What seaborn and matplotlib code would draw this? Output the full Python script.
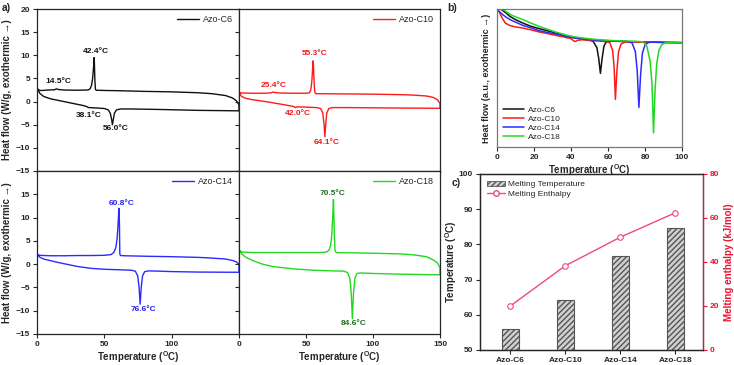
import numpy as np
import pandas as pd
import matplotlib
matplotlib.use('Agg')
import matplotlib.pyplot as plt
from matplotlib.patches import Patch
from matplotlib.lines import Line2D
import seaborn as sns

# --- DSC curves (panel a) ---
# heating run (0 -> 150), then cooling run (150 -> 0)
c6_heat_t = [0.5, 2, 5, 10, 15, 20, 25, 30, 35, 37, 38.1, 39, 45, 50, 53, 54.5, 55.5, 56, 56.6, 57.5, 59, 62, 70, 90, 120, 150]
c6_heat_hf = [2.7, 1.8, 1.1, 0.6, 0.3, 0.0, -0.3, -0.6, -0.9, -1.1, -1.3, -1.3, -1.4, -1.5, -1.8, -2.6, -4.0, -5.0, -4.0, -2.5, -1.8, -1.6, -1.6, -1.7, -1.9, -2.0]
c6_cool_t = [150, 148, 145, 140, 130, 120, 100, 80, 60, 50, 44, 43.4, 43, 42.6, 42.4, 42, 41.3, 40.5, 39.5, 38, 30, 20, 16, 14.5, 13, 8, 4, 2, 0.5]
c6_cool_hf = [-0.7, 0.2, 0.8, 1.3, 1.7, 1.9, 2.1, 2.2, 2.35, 2.4, 2.45, 2.6, 4.5, 8.5, 9.5, 7.5, 5.0, 3.5, 2.8, 2.5, 2.45, 2.5, 2.6, 2.75, 2.55, 2.5, 2.4, 2.4, 2.7]

c10_heat_t = [0.3, 2, 5, 10, 15, 20, 30, 38, 41, 42, 43, 50, 58, 61, 62.5, 63.5, 64.1, 64.7, 65.5, 67, 70, 80, 100, 120, 150]
c10_heat_hf = [1.9, 1.1, 0.7, 0.4, 0.2, 0.0, -0.5, -0.9, -1.1, -1.3, -1.15, -1.2, -1.3, -1.5, -2.5, -5.0, -7.6, -5.0, -2.5, -1.5, -1.3, -1.3, -1.35, -1.4, -1.45]
c10_cool_t = [150, 148, 145, 140, 130, 120, 100, 80, 60, 58, 57, 56.5, 56, 55.6, 55.3, 55, 54.5, 54, 53.3, 52.5, 51, 40, 30, 27, 25.4, 24, 20, 10, 3, 0.3]
c10_cool_hf = [-0.4, 0.4, 0.9, 1.2, 1.4, 1.5, 1.6, 1.65, 1.7, 1.7, 1.75, 2.2, 4.5, 7.5, 8.8, 7.5, 5.0, 3.3, 2.3, 1.9, 1.8, 1.8, 1.85, 1.95, 2.05, 1.9, 1.8, 1.8, 1.85, 1.9]

c14_heat_t = [0.5, 2, 5, 10, 15, 20, 30, 40, 50, 60, 70, 73, 74.8, 75.8, 76.6, 77.4, 78.4, 80, 83, 90, 100, 120, 150]
c14_heat_hf = [2.0, 1.5, 1.1, 0.75, 0.4, 0.1, -0.5, -0.9, -1.1, -1.2, -1.3, -1.5, -2.5, -5.0, -8.6, -5.0, -2.5, -1.6, -1.45, -1.5, -1.6, -1.7, -1.75]
c14_cool_t = [150, 148, 145, 140, 130, 120, 100, 80, 65, 62, 61.5, 61.2, 60.8, 60.2, 59.5, 58.5, 57, 55, 50, 40, 30, 20, 10, 5, 2, 0.5]
c14_cool_hf = [0.0, 0.5, 0.8, 1.1, 1.3, 1.45, 1.6, 1.7, 1.8, 1.85, 2.2, 9.0, 12.0, 8.5, 5.5, 3.5, 2.5, 2.05, 1.9, 1.85, 1.85, 1.8, 1.8, 1.85, 1.9, 2.0]

c18_heat_t = [0.5, 2, 5, 10, 17.5, 25, 40, 55, 70, 78, 81, 82.7, 83.7, 84.6, 85.5, 86.5, 88, 91, 100, 120, 150]
c18_heat_hf = [2.9, 2.2, 1.5, 0.8, 0.0, -0.5, -1.0, -1.3, -1.45, -1.5, -1.8, -3.0, -6.0, -11.7, -6.0, -3.0, -2.0, -1.9, -2.0, -2.15, -2.3]
c18_cool_t = [150, 148, 145, 140, 130, 120, 100, 80, 75, 72.5, 71.6, 71.1, 70.5, 70, 69.3, 68.5, 67.5, 66, 64, 60, 40, 25, 10, 5, 2, 0.5]
c18_cool_hf = [-0.75, 0.3, 0.9, 1.6, 2.0, 2.2, 2.35, 2.45, 2.45, 2.5, 3.0, 7.0, 13.9, 10.5, 6.5, 4.2, 3.2, 2.7, 2.55, 2.5, 2.5, 2.5, 2.5, 2.55, 2.6, 2.9]

# peak labels: (text, T, HF)
c6_notes = [('14.5°C', 15.7, 4.3), ('42.4°C', 43.8, 10.8), ('38.1°C', 38.3, -3.1), ('56.0°C', 58.2, -5.8)]
c10_notes = [('25.4°C', 25.7, 3.4), ('55.3°C', 56.3, 10.3), ('42.0°C', 43.7, -2.5), ('64.1°C', 65.5, -8.9)]
c14_notes = [('60.8°C', 62.7, 13.0), ('76.6°C', 78.9, -9.8)]
c18_notes = [('70.5°C', 69.5, 15.1), ('84.6°C', 85.9, -12.8)]

# --- normalised heating curves (panel b), a.u. 0-100 ---
b_c6_t = [1, 2.5, 5, 7, 10, 14, 18, 23, 28, 32, 36, 37.5, 38.5, 40, 45, 50, 52, 54, 55, 55.9, 56.8, 57.8, 59, 61, 65, 70, 80, 90, 100]
b_c6_v = [101, 99.5, 97, 94.6, 92.3, 89.8, 87.6, 85.7, 84, 82.5, 80.8, 79.2, 80, 79.5, 78.4, 77.6, 76.5, 72, 64, 53.4, 64, 73, 76.2, 76.8, 76.6, 76.3, 76, 75.8, 75.6]
b_c10_t = [0.5, 1.5, 3, 4.5, 7, 10, 14, 18, 23, 28, 32, 36, 40, 41.3, 42.3, 43.5, 46, 50, 55, 59, 61, 62.5, 63.3, 64.0, 64.8, 65.7, 67, 69, 72, 80, 90, 100]
b_c10_v = [100, 97, 93, 89.8, 88, 87, 86.2, 85, 83.3, 82, 80.8, 79.8, 78.6, 77, 76.4, 77.3, 77.7, 77.2, 76.8, 76.4, 75.5, 70, 58, 34.5, 55, 69, 74.5, 76, 76.2, 76, 75.8, 75.6]
b_c14_t = [0.7, 3, 5, 7.2, 10, 14, 18, 23, 28, 32, 36, 40, 45, 50, 55, 60, 65, 70, 73, 74.8, 75.8, 76.7, 77.6, 78.6, 80, 82, 85, 90, 100]
b_c14_v = [98.8, 96, 94, 92.2, 90.5, 88.1, 86.5, 84.2, 82.8, 81.8, 80.6, 79.6, 78.6, 77.8, 77.3, 77, 76.8, 76.6, 75.5, 69, 55, 28.7, 52, 68, 74, 75.8, 76, 75.8, 75.6]
b_c18_t = [3, 5, 8, 11, 14.3, 18, 23, 28, 32, 36, 41, 45, 50, 55, 60, 65, 70, 75, 79, 81, 82.8, 83.8, 84.6, 85.4, 86.3, 87.5, 89, 91, 95, 100]
b_c18_v = [100, 98, 95.5, 93.8, 92.2, 90, 87.3, 85, 83.2, 81.7, 80, 79.2, 78.4, 77.8, 77.3, 77, 76.8, 76.6, 76.2, 73, 62, 45, 10.2, 40, 60, 70, 74, 75.5, 75.8, 75.6]

# --- panel c ---
samples = ['Azo-C6', 'Azo-C10', 'Azo-C14', 'Azo-C18']
melt_temp = [56.0, 64.1, 76.6, 84.6]
melt_enthalpy = [20.0, 38.3, 51.3, 62.4]

colors = ['#111111', '#ff1a1a', '#2b2bff', '#22d822']
note_colors = ['#111111', '#ee1a1a', '#2222ee', '#1d6e1d']
PINK = '#f04a78'
RED_AX = '#ee1133'

sns.set_style('ticks')
plt.rcParams['font.family'] = ['Liberation Sans', 'DejaVu Sans']
plt.rcParams['mathtext.fontset'] = 'custom'
plt.rcParams['mathtext.rm'] = 'Liberation Sans'
plt.rcParams['mathtext.bf'] = 'Liberation Sans:bold'
plt.rcParams['axes.linewidth'] = 0.9

W, H = 734, 365
fig = plt.figure(figsize=(W / 100, H / 100), dpi=100)


def px_axes(x0, y0, x1, y1):
    return fig.add_axes([x0 / W, 1 - y1 / H, (x1 - x0) / W, (y1 - y0) / H])


TEMP_LABEL = r'Temperature ($^{\mathbf{O}}$C)'
TICK_FS = 6
LAB_FS = 7

# --- panel a ---
boxes = [(37, 9, 239, 171), (239, 9, 440, 171), (37, 171, 239, 334), (239, 171, 440, 334)]
curves = [
    (c6_heat_t + c6_cool_t, c6_heat_hf + c6_cool_hf, c6_notes),
    (c10_heat_t + c10_cool_t, c10_heat_hf + c10_cool_hf, c10_notes),
    (c14_heat_t + c14_cool_t, c14_heat_hf + c14_cool_hf, c14_notes),
    (c18_heat_t + c18_cool_t, c18_heat_hf + c18_cool_hf, c18_notes),
]
for i, (box, (tt, hf, notes)) in enumerate(zip(boxes, curves)):
    ax = px_axes(*box)
    df = pd.DataFrame({'T': tt, 'HF': hf})
    sns.lineplot(data=df, x='T', y='HF', sort=False, estimator=None, color=colors[i],
                 linewidth=1.0, ax=ax, label=samples[i])
    for txt, x, y in notes:
        ax.text(x, y, txt, ha='center', va='center', fontsize=6, fontweight='bold', color=note_colors[i])
    ax.set_xlim(0, 150)
    ax.set_ylim(-15, 20)
    ax.tick_params(direction='out', length=3, width=0.8, labelsize=TICK_FS, pad=2)
    left = i in (0, 2)
    bottom = i in (2, 3)
    if i == 2:
        ax.set_xticks([0, 50, 100])
        ax.set_yticks(range(-15, 20, 5))
    elif i == 0:
        ax.set_xticks([0, 50, 100])
        ax.set_yticks(range(-15, 25, 5))
    else:
        ax.set_xticks([0, 50, 100, 150])
        ax.set_yticks(range(-15, 20, 5))
    if not left:
        ax.set_yticklabels([])
        ax.set_ylabel('')
    else:
        ax.set_ylabel('Heat flow (W/g, exothermic →)', fontsize=LAB_FS, fontweight='bold', labelpad=3)
        for lab in ax.get_yticklabels():
            lab.set_fontweight('bold')
    if not bottom:
        ax.set_xticklabels([])
        ax.set_xlabel('')
    else:
        ax.set_xlabel(TEMP_LABEL, fontsize=LAB_FS, fontweight='bold', labelpad=1)
        for lab in ax.get_xticklabels():
            lab.set_fontweight('bold')
    leg = ax.legend(loc='upper right', frameon=False, fontsize=6.5, handlelength=2.4,
                    borderaxespad=0.3, handletextpad=0.4)

fig.text(2 / W, 1 - 8 / H, 'a)', fontsize=7.5, fontweight='bold', va='center')

# --- panel b ---
axb = px_axes(497, 9, 682, 147)
b_sets = [(b_c6_t, b_c6_v), (b_c10_t, b_c10_v), (b_c14_t, b_c14_v), (b_c18_t, b_c18_v)]
for i, (tt, vv) in enumerate(b_sets):
    sns.lineplot(x=tt, y=vv, sort=False, estimator=None, color=colors[i], linewidth=1.1,
                 ax=axb, label=samples[i])
axb.set_xlim(0, 100)
axb.set_ylim(0, 100)
axb.set_xticks(range(0, 101, 20))
axb.set_yticks([])
axb.tick_params(direction='out', length=3, width=0.8, labelsize=TICK_FS, pad=2)
for lab in axb.get_xticklabels():
    lab.set_fontweight('bold')
for sp in axb.spines.values():
    sp.set_color('#777777')
axb.set_xlabel(TEMP_LABEL, fontsize=LAB_FS, fontweight='bold', labelpad=1)
axb.set_ylabel('Heat flow (a.u., exothermic →)', fontsize=6.5, fontweight='bold', labelpad=4)
axb.legend(loc='lower left', frameon=False, fontsize=6, handlelength=2.6, labelspacing=0.15,
           borderaxespad=0.3, handletextpad=0.4)
fig.text(447 / W, 1 - 8 / H, 'b)', fontsize=7.5, fontweight='bold', va='center')

# --- panel c ---
axc = px_axes(480, 174, 703, 350)
sns.barplot(x=samples, y=melt_temp, ax=axc, width=0.3, color='#d0d0d0', saturation=1,
            edgecolor='#555555', linewidth=0.8, hatch='//////')
axc.set_ylim(50, 100)
axc.set_xlim(-0.55, 3.5)
axc.set_yticks(range(50, 101, 10))
axc.tick_params(direction='out', length=3, width=0.8, labelsize=TICK_FS, pad=2)
for lab in axc.get_yticklabels() + axc.get_xticklabels():
    lab.set_fontweight('bold')
axc.set_ylabel(TEMP_LABEL, fontsize=LAB_FS, fontweight='bold', labelpad=0)
axc.set_xlabel('')

ax2 = axc.twinx()
sns.lineplot(x=samples, y=melt_enthalpy, ax=ax2, color=PINK, linewidth=1.0, marker='o',
             markersize=4, markerfacecolor='white', markeredgecolor=PINK, markeredgewidth=0.8)
ax2.set_ylim(0, 80)
ax2.set_yticks(range(0, 81, 20))
ax2.tick_params(axis='y', direction='out', length=3, width=0.8, labelsize=TICK_FS, pad=2,
                colors=RED_AX)
for lab in ax2.get_yticklabels():
    lab.set_fontweight('bold')
ax2.spines['right'].set_color(RED_AX)
ax2.set_ylabel('Melting enthalpy (kJ/mol)', fontsize=LAB_FS, fontweight='bold', color=RED_AX, labelpad=3)

handles = [Patch(facecolor='#d0d0d0', edgecolor='#555555', hatch='//////', linewidth=0.6),
           Line2D([], [], color=PINK, marker='o', markersize=4, markerfacecolor='white',
                  markeredgecolor=PINK, linewidth=1.0)]
axc.legend(handles, ['Melting Temperature', 'Melting Enthalpy'], loc='upper left', frameon=False,
           fontsize=6, handlelength=2.2, labelspacing=0.2, borderaxespad=0.4, handletextpad=0.4)
fig.text(452 / W, 1 - 183 / H, 'c)', fontsize=7.5, fontweight='bold', va='center')

fig.savefig('out.png', dpi=100)
